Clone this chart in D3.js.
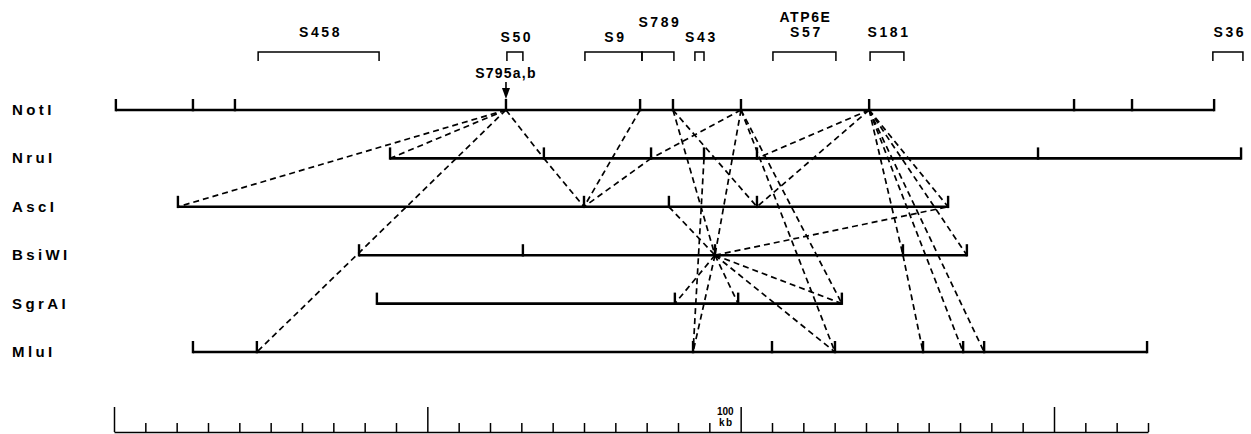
<!DOCTYPE html>
<html>
<head>
<meta charset="utf-8">
<script src="https://cdn.jsdelivr.net/npm/d3@7/dist/d3.min.js"></script>
<style>
  body { margin: 0; background: #fff; }
  text { font-family: "Liberation Sans", Arial, Helvetica, sans-serif; font-weight: bold; fill: #000; }
</style>
</head>
<body>
<svg id="chart"></svg>
<script>
// restriction map, all positions in kb
var enzymes = ["NotI", "NruI", "AscI", "BsiWI", "SgrAI", "MluI"];

var notISites  = [0.6, 25.2, 38.6, 125.1, 167.9, 178.4, 200.1, 241.0, 306.4, 324.9, 351.1];
var nruISites  = [88.1, 137.2, 171.4, 188.3, 205.2, 294.9, 359.7];
var ascISites  = [20.4, 150.0, 177.1, 205.2, 266.2];
var bsiWISites = [78.2, 130.5, 191.8, 251.8, 272.2];
var sgrAISites = [83.9, 179.0, 199.2, 232.3];
var mluISites  = [25.2, 45.6, 184.8, 210.0, 230.1, 258.2, 271.0, 277.7, 329.7];

// dashed links: [enzyme, kb, enzyme, kb]
var links = [
    ["NotI", 125.1, "NruI", 88.1],
    ["NotI", 125.1, "AscI", 20.4],
    ["NotI", 125.1, "NruI", 137.2],
    ["NruI", 137.2, "AscI", 150.0],
    ["NotI", 125.1, "MluI", 45.6],
    ["NotI", 167.9, "AscI", 150.0],
    ["NruI", 171.4, "AscI", 150.0],
    ["NotI", 200.1, "NruI", 171.4],
    ["NotI", 178.4, "AscI", 205.2],
    ["NotI", 178.4, "BsiWI", 191.8],
    ["NotI", 200.1, "BsiWI", 191.8],
    ["NotI", 200.1, "SgrAI", 232.3],
    ["NotI", 200.1, "MluI", 230.1],
    ["NotI", 241.0, "NruI", 205.2],
    ["NotI", 241.0, "AscI", 205.2],
    ["NruI", 188.3, "MluI", 184.8],
    ["AscI", 177.1, "BsiWI", 191.8],
    ["BsiWI", 191.8, "SgrAI", 179.0],
    ["BsiWI", 191.8, "SgrAI", 199.2],
    ["BsiWI", 191.8, "SgrAI", 232.3],
    ["BsiWI", 191.8, "MluI", 230.1],
    ["BsiWI", 191.8, "MluI", 184.8],
    ["BsiWI", 191.8, "AscI", 266.2],
    ["NotI", 241.0, "BsiWI", 251.8],
    ["BsiWI", 251.8, "MluI", 258.2],
    ["NotI", 241.0, "BsiWI", 272.2],
    ["NotI", 241.0, "MluI", 271.0],
    ["NotI", 241.0, "MluI", 277.7],
    ["NotI", 241.0, "AscI", 266.2]
];

// probes above the map
var probeNames = ["S458", "S50", "S9", "S789", "S43", "S57", "S181", "S36"];
var probeStart = [46.0, 125.4, 150.3, 168.5, 185.4, 210.3, 241.3, 350.7];
var probeEnd   = [84.6, 130.5, 168.5, 178.7, 188.3, 230.4, 252.1, 360.3];
var geneName = "ATP6E";
var arrowName = "S795a,b";
var arrowSite = 125.1;

// scale bar
var scaleMax = 330;
var scaleStep = 10;
var scaleMajor = 100;
var scaleLabel = ["100", "kb"];

var sites = {
    NotI: notISites, NruI: nruISites, AscI: ascISites,
    BsiWI: bsiWISites, SgrAI: sgrAISites, MluI: mluISites
};

var width = 1251, height = 434;

var svg = d3.select("#chart")
    .attr("width", width)
    .attr("height", height);

var x = d3.scaleLinear().domain([0, scaleMax]).range([114, 1148]);
var y = d3.scalePoint().domain(enzymes).range([110, 352]);

// dashed lines go first so the maps sit on top
svg.selectAll(".link")
    .data(links)
    .enter()
    .append("line")
    .attr("class", "link")
    .attr("x1", function(d){ return x(d[1]); })
    .attr("y1", function(d){ return y(d[0]); })
    .attr("x2", function(d){ return x(d[3]); })
    .attr("y2", function(d){ return y(d[2]); })
    .style("stroke", "#000")
    .style("stroke-width", 1.7)
    .style("stroke-dasharray", "6,4");

var row = svg.selectAll(".row")
    .data(enzymes)
    .enter()
    .append("g")
    .attr("class", "row")
    .attr("transform", function(d){ return "translate(0," + y(d) + ")"; });

row.append("text")
    .attr("x", 12)
    .attr("y", 5)
    .style("font-size", "15px")
    .style("letter-spacing", "3.4px")
    .text(function(d){ return d; });

row.append("line")
    .attr("x1", function(d){ return x(d3.min(sites[d])); })
    .attr("x2", function(d){ return x(d3.max(sites[d])); })
    .style("stroke", "#000")
    .style("stroke-width", 2.6);

row.selectAll(".site")
    .data(function(d){ return sites[d]; })
    .enter()
    .append("line")
    .attr("class", "site")
    .attr("x1", function(d){ return x(d); })
    .attr("x2", function(d){ return x(d); })
    .attr("y1", 1.3)
    .attr("y2", -11)
    .style("stroke", "#000")
    .style("stroke-width", 2.4);

// probe brackets
var labelY = {S458: 37, S50: 42, S9: 42, S789: 27, S43: 42, S57: 37, S181: 37, S36: 37};

var probe = svg.selectAll(".probe")
    .data(probeNames)
    .enter()
    .append("g")
    .attr("class", "probe");

probe.append("path")
    .attr("d", function(d, i) {
        var a = x(probeStart[i]), b = x(probeEnd[i]);
        return "M" + a + ",61V52H" + b + "V61";
    })
    .style("fill", "none")
    .style("stroke", "#000")
    .style("stroke-width", 1.5);

probe.append("text")
    .attr("x", function(d, i){ return (x(probeStart[i]) + x(probeEnd[i])) / 2 + 2; })
    .attr("y", function(d){ return labelY[d]; })
    .attr("text-anchor", "middle")
    .style("font-size", "14px")
    .style("letter-spacing", "2.6px")
    .text(function(d){ return d; });

var s57 = probeNames.indexOf("S57");
svg.append("text")
    .attr("x", (x(probeStart[s57]) + x(probeEnd[s57])) / 2 + 1)
    .attr("y", 22)
    .attr("text-anchor", "middle")
    .style("font-size", "14px")
    .style("letter-spacing", "1.6px")
    .text(geneName);

// arrow for S795a,b
svg.append("text")
    .attr("x", x(arrowSite))
    .attr("y", 78)
    .attr("text-anchor", "middle")
    .style("font-size", "14px")
    .style("letter-spacing", "1.2px")
    .text(arrowName);

svg.append("line")
    .attr("x1", x(arrowSite)).attr("x2", x(arrowSite))
    .attr("y1", 82).attr("y2", 90)
    .style("stroke", "#000")
    .style("stroke-width", 1.6);

svg.append("path")
    .attr("d", "M" + (x(arrowSite) - 4) + ",88L" + (x(arrowSite) + 4) + ",88L" + x(arrowSite) + ",99Z")
    .style("fill", "#000");

// scale bar along the bottom
var bar = svg.append("g")
    .attr("transform", "translate(0,432)")
    .call(d3.axisTop(x)
        .tickValues(d3.range(0, scaleMax + 1, scaleStep))
        .tickSize(9)
        .tickSizeOuter(0)
        .tickFormat(""));

bar.select(".domain").style("stroke", "#000").style("stroke-width", 1.5);
bar.selectAll(".tick line").style("stroke", "#000").style("stroke-width", 1.5);
bar.selectAll(".tick")
    .filter(function(d){ return d % scaleMajor == 0; })
    .select("line")
    .attr("y2", -25);

svg.selectAll(".scaleLabel")
    .data(scaleLabel)
    .enter()
    .append("text")
    .attr("class", "scaleLabel")
    .attr("x", x(scaleMajor * 2) - 7)
    .attr("y", function(d, i){ return 415 + 11 * i; })
    .attr("text-anchor", "end")
    .style("font-size", "10px")
    .style("letter-spacing", function(d, i){ return i ? "1.5px" : "0px"; })
    .text(function(d){ return d; });
</script>
</body>
</html>
